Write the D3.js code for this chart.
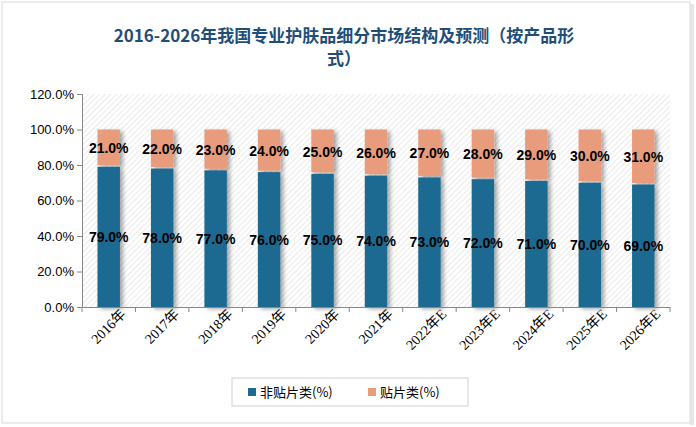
<!DOCTYPE html>
<html><head><meta charset="utf-8">
<script src="https://cdn.jsdelivr.net/npm/d3@7"></script>
<style>body{margin:0;background:#fff;font-family:"Noto Sans CJK SC","Liberation Sans",sans-serif}</style>
</head><body><div id="chart"></div>
<script>
const years = ['2016年','2017年','2018年','2019年','2020年','2021年','2022年E','2023年E','2024年E','2025年E','2026年E'];
const nonPatch = [79,78,77,76,75,74,73,72,71,70,69];
const patch = [21,22,23,24,25,26,27,28,29,30,31];
const yTicks = [0,20,40,60,80,100,120];
const margin = { left: 82, right: 26, top: 94, bottom: 120 };
const W = 696, H = 427;
const width = W - margin.left - margin.right, height = H - margin.top - margin.bottom;

const svg = d3.select('#chart').append('svg').attr('width', W).attr('height', H);
const defs = svg.append('defs');
const pat = defs.append('pattern').attr('id','hatch').attr('width',4).attr('height',4)
  .attr('patternUnits','userSpaceOnUse').attr('patternTransform','rotate(45)');
pat.append('rect').attr('width',4).attr('height',4).attr('fill','#fff');
pat.append('line').attr('x1',0).attr('y1',0).attr('x2',0).attr('y2',4).attr('stroke','#dcdcdc').attr('stroke-width',1.2);
const f = defs.append('filter').attr('id','sh').attr('x','-20%').attr('y','-20%').attr('width','160%').attr('height','140%');
f.append('feDropShadow').attr('dx',3).attr('dy',2).attr('stdDeviation',2).attr('flood-color','#000').attr('flood-opacity',0.35);

svg.append('rect').attr('x',2).attr('y',2).attr('width',W-8).attr('height',H-6).attr('fill','none').attr('stroke','#d9d9d9');
svg.append('rect').attr('x',W-6).attr('y',4).attr('width',4).attr('height',H-6).attr('fill','#e6e6e6');

svg.append('text').attr('x',W/2-4).attr('y',42).attr('text-anchor','middle').attr('fill','#1f4e79')
  .style('font-size','17px').style('font-weight','bold').text('2016-2026年我国专业护肤品细分市场结构及预测（按产品形');
svg.append('text').attr('x',W/2-4).attr('y',65).attr('text-anchor','middle').attr('fill','#1f4e79')
  .style('font-size','17px').style('font-weight','bold').text('式）');

const g = svg.append('g').attr('transform',`translate(${margin.left},${margin.top})`);
const x = d3.scaleBand().domain(years).range([0,width]).paddingInner(0.58).paddingOuter(0.29);
const y = d3.scaleLinear().domain([0,120]).range([height,0]);

g.append('rect').attr('width',width).attr('height',height).attr('fill','url(#hatch)');

const bars = g.selectAll('.bar').data(years).join('g').attr('filter','url(#sh)');
bars.append('rect').attr('x',d=>x(d)).attr('width',x.bandwidth())
  .attr('y',(d,i)=>y(nonPatch[i])).attr('height',(d,i)=>y(0)-y(nonPatch[i])).attr('fill','#1c6a91');
bars.append('rect').attr('x',d=>x(d)).attr('width',x.bandwidth())
  .attr('y',(d,i)=>y(100)).attr('height',(d,i)=>y(nonPatch[i])-y(100)-1.5).attr('fill','#e89c7c');

g.selectAll('.l1').data(years).join('text').attr('x',d=>x(d)+x.bandwidth()/2)
  .attr('y',(d,i)=>y(nonPatch[i]/2)+5).attr('text-anchor','middle').style('font-size','14px').style('font-weight','bold')
  .attr('font-family','"Liberation Sans",sans-serif').text((d,i)=>nonPatch[i].toFixed(1)+'%');
g.selectAll('.l2').data(years).join('text').attr('x',d=>x(d)+x.bandwidth()/2)
  .attr('y',(d,i)=>y(nonPatch[i]+patch[i]/2)+5).attr('text-anchor','middle').style('font-size','14px').style('font-weight','bold')
  .attr('font-family','"Liberation Sans",sans-serif').text((d,i)=>patch[i].toFixed(1)+'%');

const ya = g.append('g').call(d3.axisLeft(y).tickValues(yTicks).tickSize(5).tickFormat(d=>d.toFixed(1)+'%'));
ya.selectAll('text').style('font-size','13px').attr('fill','#000').attr('font-family','"Liberation Sans",sans-serif');
ya.selectAll('line,path').attr('stroke','#888');

const xa = g.append('g').attr('transform',`translate(0,${height})`)
  .call(d3.axisBottom(x).tickSize(0));
xa.select('path').attr('stroke','#888');
xa.selectAll('.tick text').attr('text-anchor','end').attr('dx','0.5em').attr('dy','1.1em')
  .attr('transform','rotate(-45)').style('font-size','14px').attr('fill','#000')
  .attr('font-family','"Liberation Serif","Noto Sans CJK SC",serif');
const edges = d3.range(years.length+1).map(i=>i*width/years.length);
g.selectAll('.xt').data(edges).join('line').attr('x1',d=>d).attr('x2',d=>d).attr('y1',height).attr('y2',height+5).attr('stroke','#888');

const lg = svg.append('g');
lg.append('rect').attr('x',232).attr('y',378).attr('width',236).attr('height',28).attr('fill','#fff').attr('stroke','#d0d0d0');
const items = [['非贴片类(%)','#1c6a91'],['贴片类(%)','#e89c7c']];
items.forEach((it,i)=>{
  const x0 = 248 + i*120;
  lg.append('rect').attr('x',x0).attr('y',388).attr('width',8).attr('height',8).attr('fill',it[1]);
  lg.append('text').attr('x',x0+12).attr('y',397).style('font-size','13px').text(it[0]);
});
</script></body></html>
